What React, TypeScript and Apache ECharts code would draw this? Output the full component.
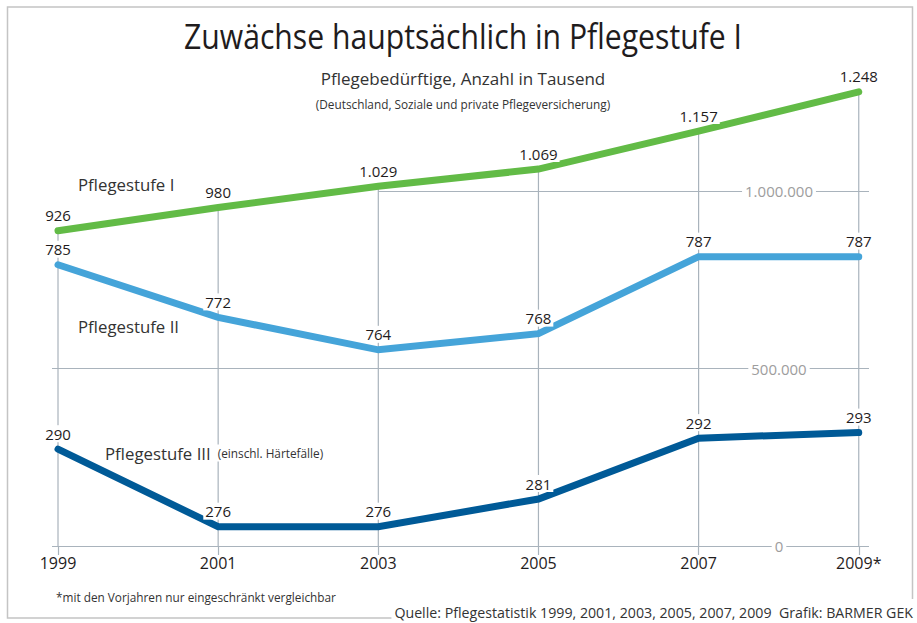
import React, { useEffect, useRef } from "react";
import * as echarts from "echarts";

// ---- data ----
const years = [1999, 2001, 2003, 2005, 2007, 2009];
const yearLabels = ["1999", "2001", "2003", "2005", "2007", "2009*"];
const stufe1 = [926, 980, 1029, 1069, 1157, 1248];
const stufe2 = [785, 772, 764, 768, 787, 787];
const stufe3 = [290, 276, 276, 281, 292, 293];
const scaleTicks = [0, 500000, 1000000];

const FONT = "'Open Sans', 'Noto Sans', sans-serif";
const GRID_C = "#a9b3bc";
const TXT = "#1f1c1d";
const X_MIN = 1998.925;
const X_MAX = 2009.128;

const fmt = (n: number) => String(Math.round(n)).replace(/\B(?=(\d{3})+(?!\d))/g, ".");

export default function App() {
  const ref = useRef<HTMLDivElement>(null);
  useEffect(() => {
    if (!ref.current) return;
    const chart = echarts.init(ref.current, undefined, { renderer: "svg" });

    const lineSeries = (name: string, data: number[], yi: number, color: string) => ({
      type: "line",
      name,
      yAxisIndex: yi,
      data: years.map((y, i) => [y, data[i]]),
      clip: false,
      symbol: "circle",
      symbolSize: 2,
      itemStyle: { color },
      lineStyle: { color, width: 7, cap: "round", join: "miter" },
      label: {
        show: true,
        position: "top",
        distance: 6,
        formatter: (p: any) => fmt(p.value[1]),
        fontSize: 15,
        fontFamily: FONT,
        color: TXT,
        backgroundColor: "#fff",
        padding: [1, 2],
      },
      z: 3,
    });

    const scaleAxisBase = {
      type: "value",
      position: "right",
      min: scaleTicks[0],
      max: scaleTicks[2],
      interval: scaleTicks[1],
      axisLine: { show: false },
      axisTick: { show: false },
    };

    const option: any = {
      animation: false,
      backgroundColor: "#fff",
      grid: { left: 52, right: 48, top: 191, bottom: 77 },
      xAxis: {
        type: "value",
        min: X_MIN,
        max: X_MAX,
        axisLine: { show: false },
        splitLine: { show: false },
        axisTick: {
          show: true,
          customValues: years,
          length: 9,
          lineStyle: { color: GRID_C, width: 1.2 },
        },
        axisLabel: {
          customValues: years,
          formatter: (v: number) => yearLabels[years.indexOf(Math.round(v))] ?? String(v),
          fontSize: 16,
          fontFamily: FONT,
          color: TXT,
          margin: 9,
        },
      },
      yAxis: [
        {
          ...scaleAxisBase,
          axisLabel: { show: false },
          splitLine: {
            show: true,
            lineStyle: { color: [GRID_C, GRID_C, "rgba(0,0,0,0)"], width: 1.2 },
          },
          z: 0,
        },
        { type: "value", show: false, min: 194.6, max: 1018.1 },
        { type: "value", show: false, min: 715.58, max: 803.2 },
        { type: "value", show: false, min: 272.51, max: 336.65 },
        {
          ...scaleAxisBase,
          splitLine: { show: false },
          axisLabel: {
            inside: true,
            align: "center",
            margin: 90,
            formatter: (v: number) => fmt(v),
            color: "#9d9d9d",
            fontSize: 15,
            fontFamily: FONT,
            backgroundColor: "#fff",
            padding: [1, 3],
          },
          z: 6,
        },
      ],
      series: [
        {
          type: "custom",
          yAxisIndex: 1,
          silent: true,
          z: 1,
          data: years.map((y, i) => [y, stufe1[i]]),
          renderItem: (params: any, api: any) => {
            const top = api.coord([api.value(0), api.value(1)]);
            const cs = params.coordSys;
            const bottom = cs.y + cs.height;
            return {
              type: "line",
              shape: { x1: top[0], y1: top[1], x2: top[0], y2: bottom },
              style: { stroke: GRID_C, lineWidth: 1.2 },
            };
          },
        },
        {
          type: "line",
          yAxisIndex: 0,
          silent: true,
          symbol: "none",
          lineStyle: { width: 0 },
          data: [],
          markLine: {
            silent: true,
            symbol: "none",
            label: { show: false },
            lineStyle: { color: GRID_C, width: 1.2, type: "solid" },
            data: [[{ coord: [years[2], scaleTicks[2]] }, { coord: [X_MAX, scaleTicks[2]] }]],
          },
          z: 1,
        },
        lineSeries("Pflegestufe I", stufe1, 1, "#62bb46"),
        lineSeries("Pflegestufe II", stufe2, 2, "#45a4d9"),
        lineSeries("Pflegestufe III", stufe3, 3, "#005a97"),
      ],
      graphic: [
        {
          type: "rect",
          shape: { x: 7.5, y: 7, width: 905, height: 611 },
          style: { fill: "none", stroke: "#c4c4c4", lineWidth: 1.5 },
          z: 0,
        },
        {
          type: "text",
          x: 463,
          y: 36,
          scaleX: 0.862,
          style: { text: "Zuwächse hauptsächlich in Pflegestufe I", fontSize: 35, fontFamily: FONT, fill: TXT, align: "center", verticalAlign: "middle" },
        },
        {
          type: "text",
          x: 463,
          y: 78,
          style: { text: "Pflegebedürftige, Anzahl in Tausend", fontSize: 17, fontFamily: FONT, fill: "#333", align: "center", verticalAlign: "middle" },
        },
        {
          type: "text",
          x: 463,
          y: 104,
          style: { text: "(Deutschland, Soziale und private Pflegeversicherung)", fontSize: 11.8, fontFamily: FONT, fill: "#333", align: "center", verticalAlign: "middle" },
        },
        {
          type: "text",
          x: 78,
          y: 184,
          style: { text: "Pflegestufe I", fontSize: 16.8, fontFamily: FONT, fill: "#333", align: "left", verticalAlign: "middle" },
        },
        {
          type: "text",
          x: 78,
          y: 326,
          style: { text: "Pflegestufe II", fontSize: 16.8, fontFamily: FONT, fill: "#333", align: "left", verticalAlign: "middle" },
        },
        {
          type: "text",
          x: 105,
          y: 453,
          z: 5,
          style: {
            text: "{a|Pflegestufe III}{b|(einschl. Härtefälle)}",
            rich: {
              a: { fontSize: 16.8, fontFamily: FONT, fill: "#333", color: "#333", padding: [0, 7, 0, 0] },
              b: { fontSize: 11.8, fontFamily: FONT, fill: "#333", color: "#333" },
            },
            backgroundColor: "#fff",
            align: "left",
            verticalAlign: "middle",
          },
        },
        {
          type: "text",
          x: 56,
          y: 597,
          style: { text: "*mit den Vorjahren nur eingeschränkt vergleichbar", fontSize: 11.8, fontFamily: FONT, fill: "#333", align: "left", verticalAlign: "middle" },
        },
        {
          type: "text",
          x: 915,
          y: 612,
          z: 5,
          style: {
            text: "Quelle: Pflegestatistik 1999, 2001, 2003, 2005, 2007, 2009  Grafik: BARMER GEK",
            fontSize: 14.2,
            fontFamily: FONT,
            fill: "#333",
            align: "right",
            verticalAlign: "middle",
            backgroundColor: "#fff",
            padding: [8, 2, 4, 3],
          },
        },
      ],
    };
    chart.setOption(option);
    return () => chart.dispose();
  }, []);
  return <div ref={ref} style={{ position: "absolute", left: 0, top: 0, width: 917, height: 623 }} />;
}
